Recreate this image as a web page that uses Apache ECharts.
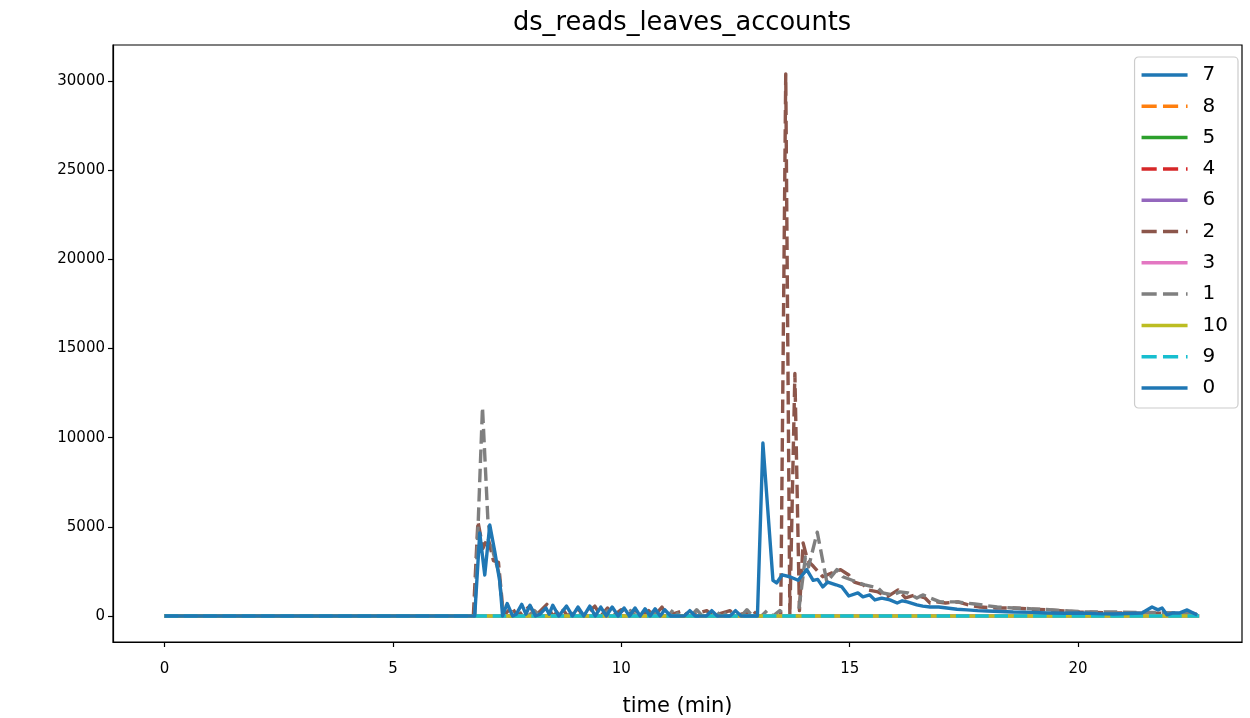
<!DOCTYPE html>
<html>
<head>
<meta charset="utf-8">
<script src="https://cdn.jsdelivr.net/npm/echarts@6/dist/echarts.min.js"></script>
<style>html,body{margin:0;padding:0;background:#fff}#c{width:1250px;height:718px}</style>
</head>
<body>
<div id="c"></div>
<script>
const seriesNames = ['7','8','5','4','6','2','3','1','10','9','0'];
const seriesColors = ['#1f77b4','#ff7f0e','#2ca02c','#d62728','#9467bd','#8c564b','#e377c2','#7f7f7f','#bcbd22','#17becf','#1f77b4'];
const seriesDashed = [false,true,false,true,false,true,false,true,false,true,false];
const xTicks = [0,5,10,15,20];
const yTicks = [0,5000,10000,15000,20000,25000,30000];

// flat (all-zero) series: 7, 8, 5, 4, 6, 3, 10, 9
const flat = [[0,0],[22.65,0]];

// series "0" (blue, solid)
const s0 = [[0,0],[6.79,0],[6.9,4650],[7.01,2300],[7.12,5100],[7.23,3600],[7.34,1900],[7.4,0],
[7.5,700],[7.62,0],[7.7,100],[7.82,650],[7.91,100],[8.0,600],[8.12,0],[8.22,100],[8.35,450],[8.42,100],[8.5,600],[8.63,0],[8.8,550],[8.93,0],[9.05,500],[9.18,0],[9.31,550],[9.43,0],[9.55,500],[9.67,0],[9.8,500],[9.93,0],[10.06,450],[10.18,0],[10.3,450],[10.41,0],[10.52,400],[10.63,0],[10.74,400],[10.85,0],[10.95,350],[11.08,0],[11.38,0],[11.5,300],[11.62,0],[11.86,0],[11.98,300],[12.1,0],[12.38,0],[12.5,300],[12.62,0],[12.98,0],
[13.1,9700],[13.32,2000],[13.4,1850],[13.52,2300],[13.69,2200],[13.87,2000],[14.06,2600],[14.2,2000],[14.3,2050],[14.41,1630],[14.52,1900],[14.7,1750],[14.83,1630],[14.98,1120],[15.18,1290],[15.29,1070],[15.44,1180],[15.55,900],[15.7,1000],[15.88,900],[16.04,730],[16.15,850],[16.26,790],[16.47,620],[16.6,550],[16.76,500],[16.95,500],[17.13,450],[17.35,380],[17.57,340],[17.8,300],[18.01,280],[18.3,250],[18.58,220],[19.0,200],[19.32,170],[19.7,150],[20.04,170],[20.4,130],[20.77,110],[21.1,140],[21.4,170],[21.62,500],[21.75,340],[21.84,450],[21.95,60],[22.08,170],[22.23,170],[22.39,340],[22.52,170],[22.61,60]];

// series "2" (brown, dashed)
const s2 = [[0,0],[6.76,0],[6.86,5300],[6.97,3800],[7.08,4400],[7.2,3100],[7.31,3000],[7.42,0],[7.6,500],[7.72,0],[8.0,550],[8.12,0],[8.37,650],[8.5,0],[8.7,450],[8.82,0],[9.05,400],[9.18,0],[9.42,550],[9.55,0],[9.7,450],[9.82,0],[10.0,350],[10.12,0],[10.3,350],[10.42,0],[10.6,300],[10.72,0],[10.89,500],[11.0,0],[11.35,300],[11.47,0],[11.87,300],[12.0,0],[12.38,300],[12.5,0],[12.88,300],[13.0,0],[13.49,0],[13.6,30400],[13.69,0],[13.8,13600],[13.9,300],[13.98,4100],[14.08,3100],[14.2,2800],[14.41,2200],[14.6,2400],[14.8,2600],[14.98,2300],[15.1,1900],[15.3,1740],[15.4,1460],[15.62,1350],[15.82,1070],[16.06,1460],[16.22,1010],[16.44,1180],[16.65,1010],[16.76,730],[16.9,800],[17.1,730],[17.37,790],[17.6,620],[17.85,500],[18.2,450],[18.58,450],[19.0,380],[19.32,340],[19.7,280],[20.04,220],[20.4,200],[20.77,170],[21.1,170],[21.5,150],[22.0,150],[22.6,100]];

// series "1" (gray, dashed)
const s1 = [[0,0],[6.79,0],[6.96,11700],[7.08,5300],[7.2,3500],[7.31,2500],[7.42,0],[7.95,0],[8.1,300],[8.22,0],[8.88,0],[9.0,250],[9.12,0],[9.58,0],[9.7,300],[9.82,0],[10.08,0],[10.2,300],[10.32,0],[10.58,0],[10.7,250],[10.82,0],[11.03,0],[11.15,400],[11.27,0],[11.53,0],[11.65,350],[11.77,0],[12.08,0],[12.2,300],[12.32,0],[12.63,0],[12.75,350],[12.87,0],[13.07,0],[13.19,300],[13.32,0],[13.47,300],[13.6,0],[13.87,0],[14.03,3300],[14.1,2750],[14.29,4700],[14.5,1900],[14.72,2600],[14.85,2200],[15.16,1900],[15.33,1740],[15.62,1570],[15.73,1290],[15.95,1180],[16.1,1350],[16.28,1290],[16.47,1010],[16.6,1180],[16.98,790],[17.35,790],[17.74,670],[18.23,500],[18.58,450],[19.0,400],[19.45,340],[19.8,280],[20.2,220],[20.6,230],[20.92,220],[21.3,200],[21.6,200],[22.1,170],[22.56,150]];

const seriesData = { '0': s0, '1': s1, '2': s2 };

const FONT = 'DejaVu Sans';
const SOLID_ICON = 'path://M0,0h46v3.5h-46z';
const DASH_ICON = 'path://M2,0h14.5v3.5h-14.5zM22.5,0h14.5v3.5h-14.5zM44.5,0h1.5v3.5h-1.5z';
const chart = echarts.init(document.getElementById('c'), null, { renderer: 'canvas' });

const series = seriesNames.map((n, i) => ({
  name: n,
  type: 'line',
  data: seriesData[n] || flat,
  showSymbol: false,
  symbol: 'none',
  animation: false,
  lineStyle: {
    color: seriesColors[i],
    width: 3.4,
    type: seriesDashed[i] ? [13.5, 5.8] : 'solid',
    cap: 'butt',
    join: 'round'
  },
  itemStyle: { color: seriesColors[i] },
  emphasis: { disabled: true }
}));

chart.setOption({
  animation: false,
  backgroundColor: '#fff',
  title: {
    text: 'ds_reads_leaves_accounts',
    left: 677, top: 5,
    textAlign: 'center',
    textStyle: { fontFamily: FONT, fontSize: 25.7, fontWeight: 'normal', color: '#000' }
  },
  grid: { left: 113, right: 8, top: 45, bottom: 76, show: true, borderColor: '#000', borderWidth: 1.2, backgroundColor: 'transparent', containLabel: false, outerBoundsMode: 'none' },
  legend: {
    orient: 'vertical',
    right: 12, top: 57,
    padding: [8, 10, 10, 7],
    itemWidth: 46, itemHeight: 3.5, itemGap: 11.3,
    symbolKeepAspect: false,
    backgroundColor: 'rgba(255,255,255,0.8)',
    borderColor: '#cccccc', borderWidth: 1.2, borderRadius: 4,
    textStyle: { fontFamily: FONT, fontSize: 20, lineHeight: 20, color: '#000', padding: [0, 0, 0, 10] },
    data: seriesNames.map((n, i) => ({ name: n, icon: seriesDashed[i] ? DASH_ICON : SOLID_ICON })),
    selectedMode: false
  },
  xAxis: {
    type: 'value',
    min: -1.13, max: 23.59,
    name: 'time (min)',
    nameLocation: 'middle', nameGap: 54,
    nameTextStyle: { fontFamily: FONT, fontSize: 21, color: '#000' },
    axisLine: { show: true, onZero: false, lineStyle: { color: '#000', width: 1.2 } },
    axisTick: { show: true, inside: false, length: 5, lineStyle: { color: '#000', width: 1.2 }, customValues: xTicks },
    axisLabel: { fontFamily: FONT, fontSize: 15, color: '#000', margin: 20, customValues: xTicks, formatter: v => String(v) },
    splitLine: { show: false }
  },
  yAxis: {
    type: 'value',
    min: -1460, max: 32020,
    axisLine: { show: true, onZero: false, lineStyle: { color: '#000', width: 1.2 } },
    axisTick: { show: true, inside: false, length: 5, lineStyle: { color: '#000', width: 1.2 }, customValues: yTicks },
    axisLabel: { fontFamily: FONT, fontSize: 15, color: '#000', margin: 8, customValues: yTicks, formatter: v => String(v) },
    splitLine: { show: false }
  },
  series: series
});
</script>
</body>
</html>
